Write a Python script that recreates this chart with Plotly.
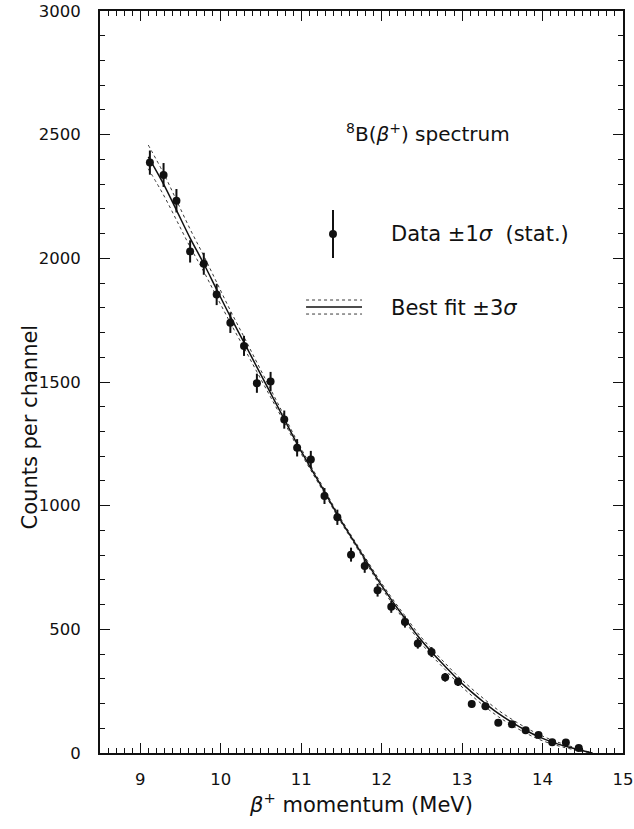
import plotly.graph_objects as go

# Measured spectrum: beta+ momentum (MeV), counts per channel, 1-sigma statistical errors
momentum = [9.12, 9.29, 9.45, 9.62, 9.79, 9.95, 10.12, 10.29, 10.45, 10.62, 10.79,
            10.95, 11.12, 11.29, 11.45, 11.62, 11.79, 11.95, 12.12, 12.29, 12.45,
            12.62, 12.79, 12.95, 13.12, 13.29, 13.45, 13.62, 13.79, 13.95, 14.12,
            14.29, 14.45]
counts = [2387, 2337, 2233, 2028, 1978, 1854, 1740, 1646, 1495, 1502, 1348,
          1234, 1187, 1039, 953, 802, 756, 658, 591, 530, 443,
          408, 306, 288, 198, 189, 122, 116, 92, 73, 43,
          42, 20]
count_err = [48.9, 48.3, 47.3, 45.0, 44.5, 43.1, 41.7, 40.6, 38.7, 38.8, 36.7,
             35.1, 34.5, 32.2, 30.9, 28.3, 27.5, 25.7, 24.3, 23.0, 21.0,
             20.2, 17.5, 17.0, 14.1, 13.7, 11.0, 10.8, 9.6, 8.5, 6.6,
             6.5, 4.5]

# Best-fit curve and its 3-sigma half-width at the fit knots
fit_x = [9.10, 9.29, 9.45, 9.62, 9.79, 9.95, 10.12, 10.29, 10.45, 10.62, 10.79,
         10.95, 11.12, 11.29, 11.45, 11.62, 11.79, 11.95, 12.12, 12.29, 12.45,
         12.62, 12.79, 12.95, 13.12, 13.29, 13.45, 13.62, 13.79, 13.95, 14.12,
         14.29, 14.45, 14.55, 14.62]
fit_y = [2410, 2300, 2195, 2082, 1978, 1874, 1764, 1660, 1560, 1455, 1350,
         1250, 1152, 1057, 964, 874, 786, 702, 620, 544, 473,
         408, 350, 296, 246, 200, 160, 124, 92, 66, 44,
         27, 13, 5, 0]
fit_hw = [48, 44, 40, 36, 32, 29, 25, 22, 19, 16, 13,
          11, 9, 8, 7, 7, 8, 9, 10, 11, 12,
          13, 13, 14, 14, 14, 13, 12, 11, 10, 8,
          6, 4, 2, 0]

band_hi = [y + h for y, h in zip(fit_y, fit_hw)]
band_lo = [y - h for y, h in zip(fit_y, fit_hw)]

x_ticks = [9, 10, 11, 12, 13, 14, 15]
y_ticks = [0, 500, 1000, 1500, 2000, 2500, 3000]

FONT = "DejaVu Sans, Verdana, sans-serif"
INK = "#111111"
DOT = "#3a3a3a"

fig = go.Figure()

fig.add_trace(go.Scatter(x=fit_x, y=band_hi, mode="lines",
                         line=dict(color=DOT, width=1, dash="dot", shape="spline"),
                         hoverinfo="skip"))
fig.add_trace(go.Scatter(x=fit_x, y=band_lo, mode="lines",
                         line=dict(color=DOT, width=1, dash="dot", shape="spline"),
                         hoverinfo="skip"))
fig.add_trace(go.Scatter(x=fit_x, y=fit_y, mode="lines",
                         line=dict(color=INK, width=1.5, shape="spline")))
fig.add_trace(go.Scatter(x=momentum, y=counts, mode="markers",
                         marker=dict(color=INK, size=8),
                         error_y=dict(type="data", array=count_err, visible=True,
                                      color=INK, thickness=2, width=0)))

# Legend glyphs drawn in paper coordinates
fig.add_shape(type="line", xref="paper", yref="paper", x0=0.4455, x1=0.4455,
              y0=0.6671, y1=0.7318, line=dict(color=INK, width=2))
fig.add_shape(type="circle", xref="paper", yref="paper",
              x0=0.4455 - 0.0076, x1=0.4455 + 0.0076,
              y0=0.6995 - 0.0054, y1=0.6995 + 0.0054,
              fillcolor=INK, line=dict(color=INK, width=0))
fig.add_shape(type="line", xref="paper", yref="paper", x0=0.394, x1=0.501,
              y0=0.6011, y1=0.6011, line=dict(color=INK, width=1.5))
for yy in (0.6105, 0.5916):
    fig.add_shape(type="line", xref="paper", yref="paper", x0=0.394, x1=0.501,
                  y0=yy, y1=yy, line=dict(color=DOT, width=1, dash="dot"))

fig.add_annotation(xref="paper", yref="paper", x=0.5526, y=0.6995,
                   xanchor="left", yanchor="middle", showarrow=False,
                   text="Data ±1<i>σ</i>\u00a0\u00a0(stat.)",
                   font=dict(family=FONT, size=21, color=INK))
fig.add_annotation(xref="paper", yref="paper", x=0.5526, y=0.5997,
                   xanchor="left", yanchor="middle", showarrow=False,
                   text="Best fit ±3<i>σ</i>",
                   font=dict(family=FONT, size=21, color=INK))
fig.add_annotation(xref="paper", yref="paper", x=0.627, y=0.8356,
                   xanchor="center", yanchor="middle", showarrow=False,
                   text="<sup>8</sup>B(<i>β</i><sup>+</sup>) spectrum",
                   font=dict(family=FONT, size=20, color=INK))

# y-axis title, set a little below the plot's mid-height
fig.add_annotation(xref="paper", yref="paper", x=-0.134, y=0.44,
                   xanchor="center", yanchor="middle", showarrow=False,
                   textangle=-90, text="Counts per channel",
                   font=dict(family=FONT, size=21, color=INK))

axis_common = dict(showline=True, linecolor=INK, linewidth=2, mirror="allticks",
                   ticks="inside", tickcolor=INK, tickwidth=1, ticklen=10,
                   showgrid=False, zeroline=False,
                   tickfont=dict(family=FONT, size=16.5, color=INK))

fig.update_xaxes(range=[8.5, 15], tickvals=x_ticks,
                 ticktext=[str(v) for v in x_ticks],
                 minor=dict(dtick=0.1, ticks="inside", ticklen=5, tickcolor=INK, tickwidth=1),
                 title=dict(text="<i>β</i><sup>+</sup> momentum (MeV)",
                            font=dict(family=FONT, size=21, color=INK), standoff=6),
                 ticklabelstandoff=10,
                 **axis_common)
fig.update_yaxes(range=[0, 3000], tickvals=y_ticks,
                 ticktext=[str(v) for v in y_ticks],
                 minor=dict(dtick=100, ticks="inside", ticklen=5, tickcolor=INK, tickwidth=1),
                 ticklabelstandoff=14,
                 **axis_common)

fig.update_layout(width=634, height=829, showlegend=False,
                  paper_bgcolor="white", plot_bgcolor="white",
                  margin=dict(l=100, r=11, t=11, b=76, autoexpand=False),
                  font=dict(family=FONT, color=INK))

fig.write_html("out.html")
